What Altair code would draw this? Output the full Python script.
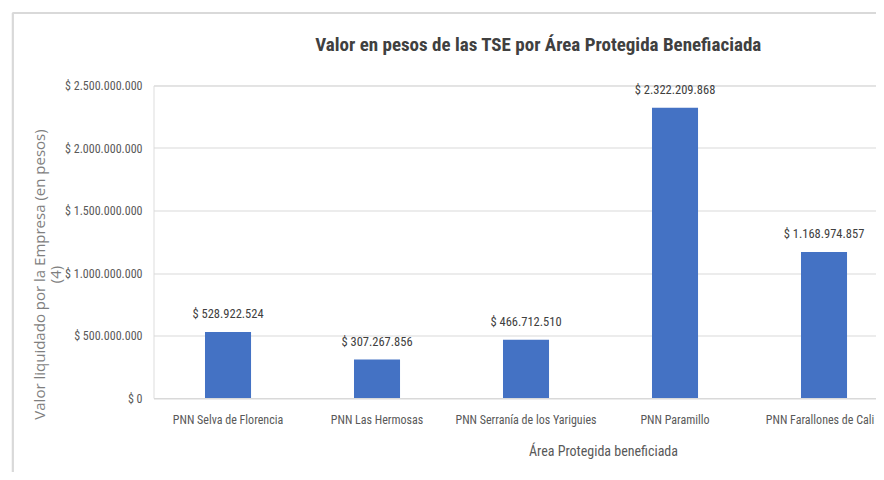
import altair as alt
import pandas as pd

areas = [
    "PNN  Selva de Florencia",
    "PNN  Las Hermosas",
    "PNN  Serranía de los Yariguies",
    "PNN Paramillo",
    "PNN Farallones de Cali",
]
valores = [528922524, 307267856, 466712510, 2322209868, 1168974857]
y_ticks = [0, 500000000, 1000000000, 1500000000, 2000000000, 2500000000]

df = pd.DataFrame({"area": areas, "valor": valores})

NARROW = "Roboto Condensed"
fmt = "'$ ' + replace(format(%s, ','), regexp(',', 'g'), '.')"

x_enc = alt.X(
    "area:N",
    sort=areas,
    scale=alt.Scale(paddingInner=0.691, paddingOuter=0.27, align=0.64, round=False),
    axis=alt.Axis(
        title="Área Protegida beneficiada",
        titleFont=NARROW, titleFontSize=14, titleFontWeight="normal", titleColor="#595959",
        titleX=449.5, titleY=53, titleBaseline="middle", titleAnchor="start", titleAlign="center",
        labelFont=NARROW, labelFontSize=12, labelColor="#595959", labelAngle=0,
        labelPadding=16, labelLimit=400, labelBound=False,
        labelOffset={"condition": {"test": "datum.label == 'PNN Farallones de Cali'", "value": -4}, "value": 0},
        ticks=False, domainColor="#d9d9d9", domainWidth=1,
    ),
)
y_enc = alt.Y(
    "valor:Q",
    scale=alt.Scale(domain=[0, 2500000000], nice=False),
    axis=alt.Axis(
        values=y_ticks,
        labelExpr=fmt % "datum.value",
        title=["Valor liquidado por la Empresa (en pesos)", "(4)"],
        titleFont="Open Sans", titleFontSize=15, titleFontWeight="normal", titleColor="#7f7f7f",
        titleAngle=-90, titleX=-114.5, titleY=188.5, titleBaseline="middle", titleLineHeight=16,
        titleAnchor="start", titleAlign="center",
        labelFont=NARROW, labelFontSize=12, labelColor="#595959", labelPadding=11.5,
        ticks=False, domain=False, gridColor="#d9d9d9", gridWidth=1,
    ),
)

bars = alt.Chart(df).mark_bar(color="#4472C4").encode(x=x_enc, y=y_enc)

labels = alt.Chart(df).transform_calculate(
    lab=fmt % "datum.valor"
).mark_text(
    font=NARROW, fontSize=12.5, color="#404040", baseline="middle", dy=-18
).encode(
    x=alt.X("area:N", sort=areas),
    y=alt.Y("valor:Q"),
    text="lab:N",
)

frame_top = alt.Chart(df).mark_rule(color="#d9d9d9", strokeWidth=1.5).encode(
    x=alt.value(-140.8), x2=alt.value(740), y=alt.value(-72.5)
)
frame_left = alt.Chart(df).mark_rule(color="#d9d9d9", strokeWidth=1.5).encode(
    x=alt.value(-140.8), y=alt.value(-72.5), y2=alt.value(400)
)

chart = alt.layer(frame_top, frame_left, bars, labels).properties(
    width=722.5,
    height=312.5,
    autosize=alt.AutoSizeParams(type="none"),
    padding={"left": 145.5, "top": 77.5, "right": 0, "bottom": 74},
    title=alt.TitleParams(
        "Valor en pesos de las TSE por Área Protegida Benefiaciada",
        font=NARROW, fontSize=19, fontWeight="bold", color="#404040",
        anchor="middle", dx=23.5, offset=0, dy=58, baseline="alphabetic",
    ),
).configure_view(stroke=None).configure(background="white")

chart.save("out.html", embed_options={"renderer": "svg", "actions": False})
